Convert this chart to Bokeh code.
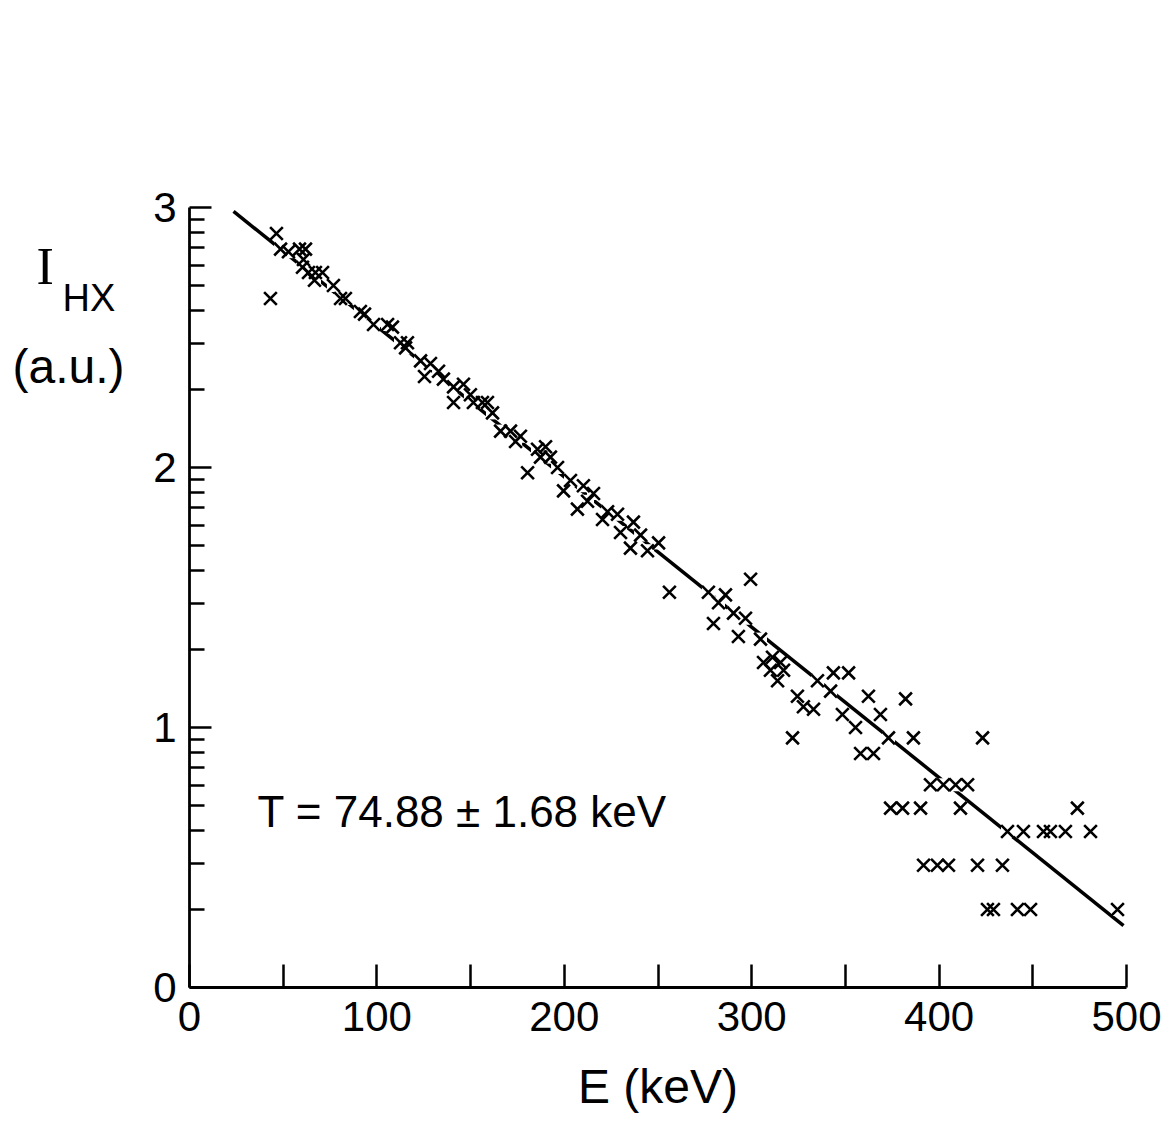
import math
from bokeh.plotting import figure
from bokeh.layouts import row
from bokeh.models import FixedTicker, Label, Range1d
from bokeh.embed import file_html
from bokeh.resources import INLINE

# ---- data ----
energy_keV = [46.4, 48.6, 52.8, 58.7, 61.9, 60.8, 60.3, 63.5, 67.2, 66.7, 71.0, 76.8, 43.2, 80.6, 83.2,
              91.2, 93.4, 98.2, 105.7, 108.3, 112.6, 115.3, 116.3, 123.3, 125.4, 128.6, 132.9, 135.5,
              140.9, 146.2, 140.9, 149.9, 151.5, 156.3, 159.0, 161.7, 166.0, 171.3, 176.6, 174.0,
              185.7, 190.0, 187.3, 192.6, 180.4, 196.4, 203.3, 199.6, 210.2, 215.6, 212.4, 207.0,
              223.1, 228.4, 220.4, 236.9, 230.0, 240.7, 235.3, 244.4, 250.3, 256.1, 276.9, 286.0,
              282.3, 299.4, 290.3, 296.7, 279.6, 292.9, 304.7, 306.3, 311.1, 315.4, 310.0, 317.0,
              313.8, 335.1, 343.6, 351.7, 324.4, 342.1, 327.6, 333.0, 362.3, 382.1, 348.4, 355.4,
              368.7, 321.8, 358.1, 365.0, 373.0, 386.3, 423.2, 395.4, 402.3, 408.8, 415.2, 374.1,
              380.5, 390.1, 411.4, 473.8, 436.5, 445.0, 455.7, 459.4, 467.4, 480.8, 391.7, 399.1,
              405.0, 420.5, 433.8, 425.8, 429.0, 441.8, 448.8, 495.2]
intensity = [2.90, 2.84, 2.83, 2.84, 2.84, 2.80, 2.77, 2.75, 2.75, 2.72, 2.75, 2.70, 2.65, 2.65, 2.65,
             2.60, 2.59, 2.55, 2.55, 2.54, 2.48, 2.46, 2.48, 2.41, 2.35, 2.40, 2.37, 2.34,
             2.31, 2.32, 2.25, 2.28, 2.25, 2.25, 2.25, 2.21, 2.14, 2.14, 2.12, 2.10,
             2.07, 2.08, 2.04, 2.04, 1.98, 2.00, 1.95, 1.91, 1.93, 1.90, 1.87, 1.84,
             1.83, 1.82, 1.80, 1.79, 1.75, 1.74, 1.69, 1.68, 1.71, 1.52, 1.52, 1.51,
             1.48, 1.57, 1.44, 1.42, 1.40, 1.35, 1.34, 1.25, 1.27, 1.25, 1.22, 1.22,
             1.18, 1.18, 1.21, 1.21, 1.12, 1.14, 1.08, 1.07, 1.12, 1.11, 1.05, 1.00,
             1.05, 0.96, 0.90, 0.90, 0.96, 0.96, 0.96, 0.78, 0.78, 0.78, 0.78, 0.69,
             0.69, 0.69, 0.69, 0.69, 0.60, 0.60, 0.60, 0.60, 0.60, 0.60, 0.47, 0.47,
             0.47, 0.47, 0.47, 0.30, 0.30, 0.30, 0.30, 0.30]
fit_energy = [23.5, 498.4]
fit_intensity = [2.985, 0.238]
x_ticks = [0, 100, 200, 300, 400, 500]
x_minor_ticks = [50, 150, 250, 350, 450]
y_ticks = [0, 1, 2, 3]
y_tick_labels = ["0", "1", "2", "3"]
fit_text = "T = 74.88 \u00b1 1.68 keV"
x_title = "E (keV)"

SANS = "Liberation Sans"
LEFT_W = 140
TOTAL_W = 1167
TOTAL_H = 1124
FRAME_L, FRAME_R, FRAME_T, FRAME_B = 189, 1126, 207, 987

# ---- left strip holding the y-axis title (I_HX (a.u.)) ----
# its frame is aligned by the row with the main frame (page y 207..987), so
# the y range is expressed as "pixels up from the bottom of the page"
lp = figure(width=LEFT_W, height=TOTAL_H, output_backend="svg", toolbar_location=None,
            x_range=Range1d(0, LEFT_W), y_range=Range1d(TOTAL_H - FRAME_B, TOTAL_H - FRAME_T),
            x_axis_location=None, y_axis_location=None,
            min_border=0, min_border_left=0, min_border_right=0,
            min_border_top=FRAME_T, min_border_bottom=TOTAL_H - FRAME_B)
lp.outline_line_color = None
lp.grid.visible = False
lp.add_layout(Label(x=36, y=TOTAL_H - 266, text="I", text_color="black",
                    text_font="Liberation Serif", text_font_size="52px",
                    text_baseline="alphabetic"))
lp.add_layout(Label(x=62, y=TOTAL_H - 297, text="HX", text_color="black",
                    text_font=SANS, text_font_size="38px", text_baseline="alphabetic"))
lp.add_layout(Label(x=12, y=TOTAL_H - 366, text="(a.u.)", text_color="black",
                    text_font=SANS, text_font_size="48px", text_baseline="alphabetic"))

# ---- main plot ----
p = figure(width=TOTAL_W - LEFT_W, height=TOTAL_H, output_backend="svg", toolbar_location=None,
           x_range=Range1d(0, 500), y_range=Range1d(0, 3),
           min_border_left=FRAME_L - LEFT_W,
           min_border_right=TOTAL_W - FRAME_R,
           min_border_top=FRAME_T,
           min_border_bottom=TOTAL_H - FRAME_B)
p.outline_line_color = None
p.grid.visible = False
p.background_fill_color = "white"
p.border_fill_color = "white"

# fit line
p.line(fit_energy, fit_intensity, line_color="black", line_width=3.5)
# white blanking behind markers (the original erases the fit line under the crosses)
p.scatter(energy_keV, intensity, marker="square", size=13, fill_color="white", line_color=None)
p.scatter(energy_keV, intensity, marker="x", size=18, line_color="black", line_width=2.6)

# axes
for ax in (p.xaxis[0], p.yaxis[0]):
    ax.axis_line_width = 2.8
    ax.axis_line_color = "black"
    ax.major_tick_line_width = 2.5
    ax.minor_tick_line_width = 2.5
    ax.major_tick_out = 0
    ax.minor_tick_out = 0
    ax.major_label_text_font = SANS
    ax.major_label_text_font_size = "42px"
    ax.major_label_text_color = "black"

xa = p.xaxis[0]
xa.ticker = FixedTicker(ticks=x_ticks, minor_ticks=x_minor_ticks)
xa.major_tick_in = 23
xa.minor_tick_in = 23
xa.major_label_standoff = 14
xa.axis_label = x_title
xa.axis_label_text_font = SANS
xa.axis_label_text_font_size = "48px"
xa.axis_label_text_font_style = "normal"
xa.axis_label_text_color = "black"
xa.axis_label_standoff = 26

ya = p.yaxis[0]
y_minor = [d + math.log10(k) for d in range(3) for k in range(2, 10)]
ya.ticker = FixedTicker(ticks=y_ticks, minor_ticks=y_minor)
ya.major_label_overrides = {t: s for t, s in zip(y_ticks, y_tick_labels)}
ya.major_tick_in = 22
ya.minor_tick_in = 15
ya.major_label_standoff = 13

p.add_layout(Label(x=68, y=176, x_units="screen", y_units="screen", text=fit_text,
                   text_color="black", text_font=SANS, text_font_size="44px",
                   text_baseline="alphabetic"))

layout = row(lp, p, spacing=0)
open("out.html", "w").write(file_html(layout, INLINE))
